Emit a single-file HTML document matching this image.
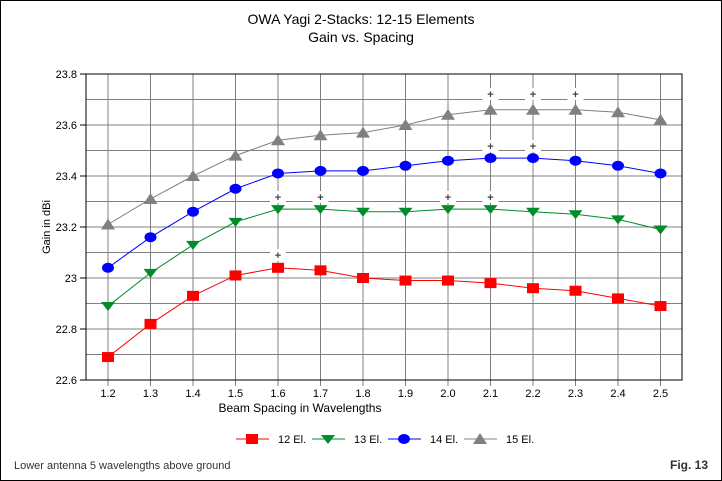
<!DOCTYPE html>
<html><head><meta charset="utf-8"><style>
html,body{margin:0;padding:0;background:#fff}
svg{display:block;font-family:"Liberation Sans",Arial,sans-serif}
</style></head><body>
<svg id="s" width="722" height="481" xmlns="http://www.w3.org/2000/svg">
<rect x="0.5" y="0.5" width="721" height="480" fill="#fff" stroke="#000"/>
<text x="361" y="24" font-size="14" text-anchor="middle">OWA Yagi 2-Stacks: 12-15 Elements</text>
<text x="361" y="42" font-size="14" text-anchor="middle">Gain vs. Spacing</text>
<g id="g"></g>
<text x="300" y="412" font-size="12" text-anchor="middle" fill="#000">Beam Spacing in Wavelengths</text>
<text transform="translate(50,227) rotate(-90)" font-size="11" text-anchor="middle">Gain in dBi</text>
<text x="14" y="469" font-size="11" fill="#333">Lower antenna 5 wavelengths above ground</text>
<text x="708" y="469" font-size="12" font-weight="bold" fill="#333" text-anchor="end">Fig. 13</text>
</svg>
<script>
const g=document.getElementById('g');let h='';
const X=s=>108+(s-1.2)*425, Y=v=>74+(23.8-v)*255;
for(let i=0;i<=12;i++){const y=74+i*25.5;h+=`<line x1="86" x2="682" y1="${y}" y2="${y}" stroke="#808080"/>`;}
for(let i=0;i<14;i++){const x=X(1.2+i*0.1);h+=`<line x1="${x}" x2="${x}" y1="74" y2="386" stroke="#808080"/>`;
h+=`<text x="${x}" y="397" font-size="11" text-anchor="middle">${(1.2+i*0.1).toFixed(1)}</text>`;}
h+=`<rect x="86" y="74" width="596" height="306" fill="none" stroke="#000"/>`;
['23.8','23.6','23.4','23.2','23','22.8','22.6'].forEach((t,i)=>{const y=74+i*51;h+=`<line x1="80" x2="86" y1="${y}" y2="${y}" stroke="#000"/><text x="77" y="${y+4}" font-size="11" text-anchor="end">${t}</text>`;});
const D=[
['#ff0000','sq',[22.69,22.82,22.93,23.01,23.04,23.03,23.00,22.99,22.99,22.98,22.96,22.95,22.92,22.89]],
['#008c2a','tri',[22.89,23.02,23.13,23.22,23.27,23.27,23.26,23.26,23.27,23.27,23.26,23.25,23.23,23.19]],
['#0000ff','ci',[23.04,23.16,23.26,23.35,23.41,23.42,23.42,23.44,23.46,23.47,23.47,23.46,23.44,23.41]],
['#808080','up',[23.21,23.31,23.40,23.48,23.54,23.56,23.57,23.60,23.64,23.66,23.66,23.66,23.65,23.62]]];
function mk(t,x,y,c){if(t=='sq')return `<rect x="${x-6}" y="${y-5}" width="12" height="10" fill="${c}"/>`;
if(t=='tri')return `<polygon points="${x-7},${y-4} ${x+7},${y-4} ${x},${y+5}" fill="${c}"/>`;
if(t=='ci')return `<ellipse cx="${x}" cy="${y}" rx="6" ry="5" fill="${c}"/>`;
return `<polygon points="${x-7},${y+5} ${x+7},${y+5} ${x},${y-6}" fill="${c}"/>`;}
[[2.1,94],[2.2,94],[2.3,94],[2.1,146],[2.2,146],[1.6,197],[1.7,197],[2.0,197],[2.1,197],[1.6,255]].forEach(([s,y])=>{const x=X(s);h+=`<rect x="${x-8}" y="${y-6}" width="16" height="12" fill="#fff"/><text x="${x}" y="${y+4}" font-size="11" font-weight="bold" fill="#444" text-anchor="middle">+</text>`;});
D.forEach(([c,t,v])=>{h+=`<polyline fill="none" stroke="${c}" points="${v.map((a,i)=>X(1.2+i*0.1)+','+Y(a)).join(' ')}"/>`;v.forEach((a,i)=>h+=mk(t,X(1.2+i*0.1),Y(a),c));});
const L=[['12 El.',236],['13 El.',312],['14 El.',388],['15 El.',464]];
L.forEach(([n,x],i)=>{const c=D[i][0];h+=`<line x1="${x}" x2="${x+33}" y1="439" y2="439" stroke="${c}"/>`+mk(D[i][1],x+16,439,c)+`<text x="${x+42}" y="443" font-size="11">${n}</text>`;});
g.innerHTML=h;
</script>
</body></html>
